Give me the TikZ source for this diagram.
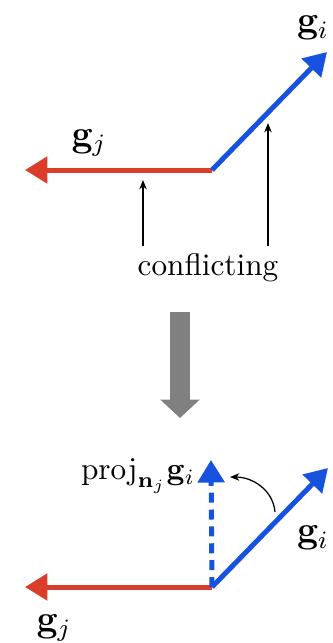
\documentclass[tikz,border=0pt]{standalone}
\usetikzlibrary{arrows.meta}
\definecolor{vred}{RGB}{218,62,42}
\definecolor{vblue}{RGB}{22,82,222}
\definecolor{vgray}{RGB}{128,128,128}
\begin{document}
\begin{tikzpicture}[x=0.32pt,y=-0.32pt,
  vec/.style={line width=1.6pt,-{Triangle[length=7.2pt,width=8.4pt]}},
  thinarrow/.style={line width=0.4pt,-{Stealth[length=3pt,width=2.4pt]}},
  lbl/.style={inner sep=0pt}]
\useasboundingbox (0,0) rectangle (332,643);
% top
\coordinate (o1) at (212,170);
\coordinate (tj1) at (25,170);
\coordinate (ti1) at (327,52);
\draw[vec,vred] (o1) -- (tj1);
\draw[vec,vblue] (o1) -- (ti1);
\node[lbl] (gi1) at (313,28) {\large$\mathbf{g}_i$};
\node[lbl] (gj1) at (89,143) {\large$\mathbf{g}_j$};
\node[lbl] (conf) at (208,268) {conflicting};
\coordinate (a1s) at (143,246);
\coordinate (a1e) at (143,180);
\coordinate (a2s) at (268,246);
\coordinate (a2e) at (268,123);
\draw[thinarrow] (a1s) -- (a1e);
\draw[thinarrow] (a2s) -- (a2e);
% gray arrow
\coordinate (gs) at (180,312);
\coordinate (ge) at (180,418);
\draw[vgray,line width=6.2pt,-{Triangle[length=5.9pt,width=12.3pt]}] (gs) -- (ge);
% bottom
\coordinate (o2) at (212,587);
\coordinate (tj2) at (25,587);
\coordinate (ti2) at (328,468);
\coordinate (tp) at (211,460);
\draw[vec,vred] (o2) -- (tj2);
\draw[vec,vblue] (o2) -- (ti2);
\draw[vec,vblue,dash pattern=on 3.2pt off 2.2pt] (o2) -- (tp);
\node[lbl] (gi2) at (313,538) {\large$\mathbf{g}_i$};
\node[lbl] (gj2) at (54,628) {\large$\mathbf{g}_j$};
\node[lbl] (proj) at (138,476) {$\mathrm{proj}_{\mathbf{n}_j}\mathbf{g}_i$};
\coordinate (cs) at (275,512);
\coordinate (ce) at (230,477);
\draw[thinarrow] (cs) to[out=95,in=0] (ce);
\end{tikzpicture}
\end{document}
